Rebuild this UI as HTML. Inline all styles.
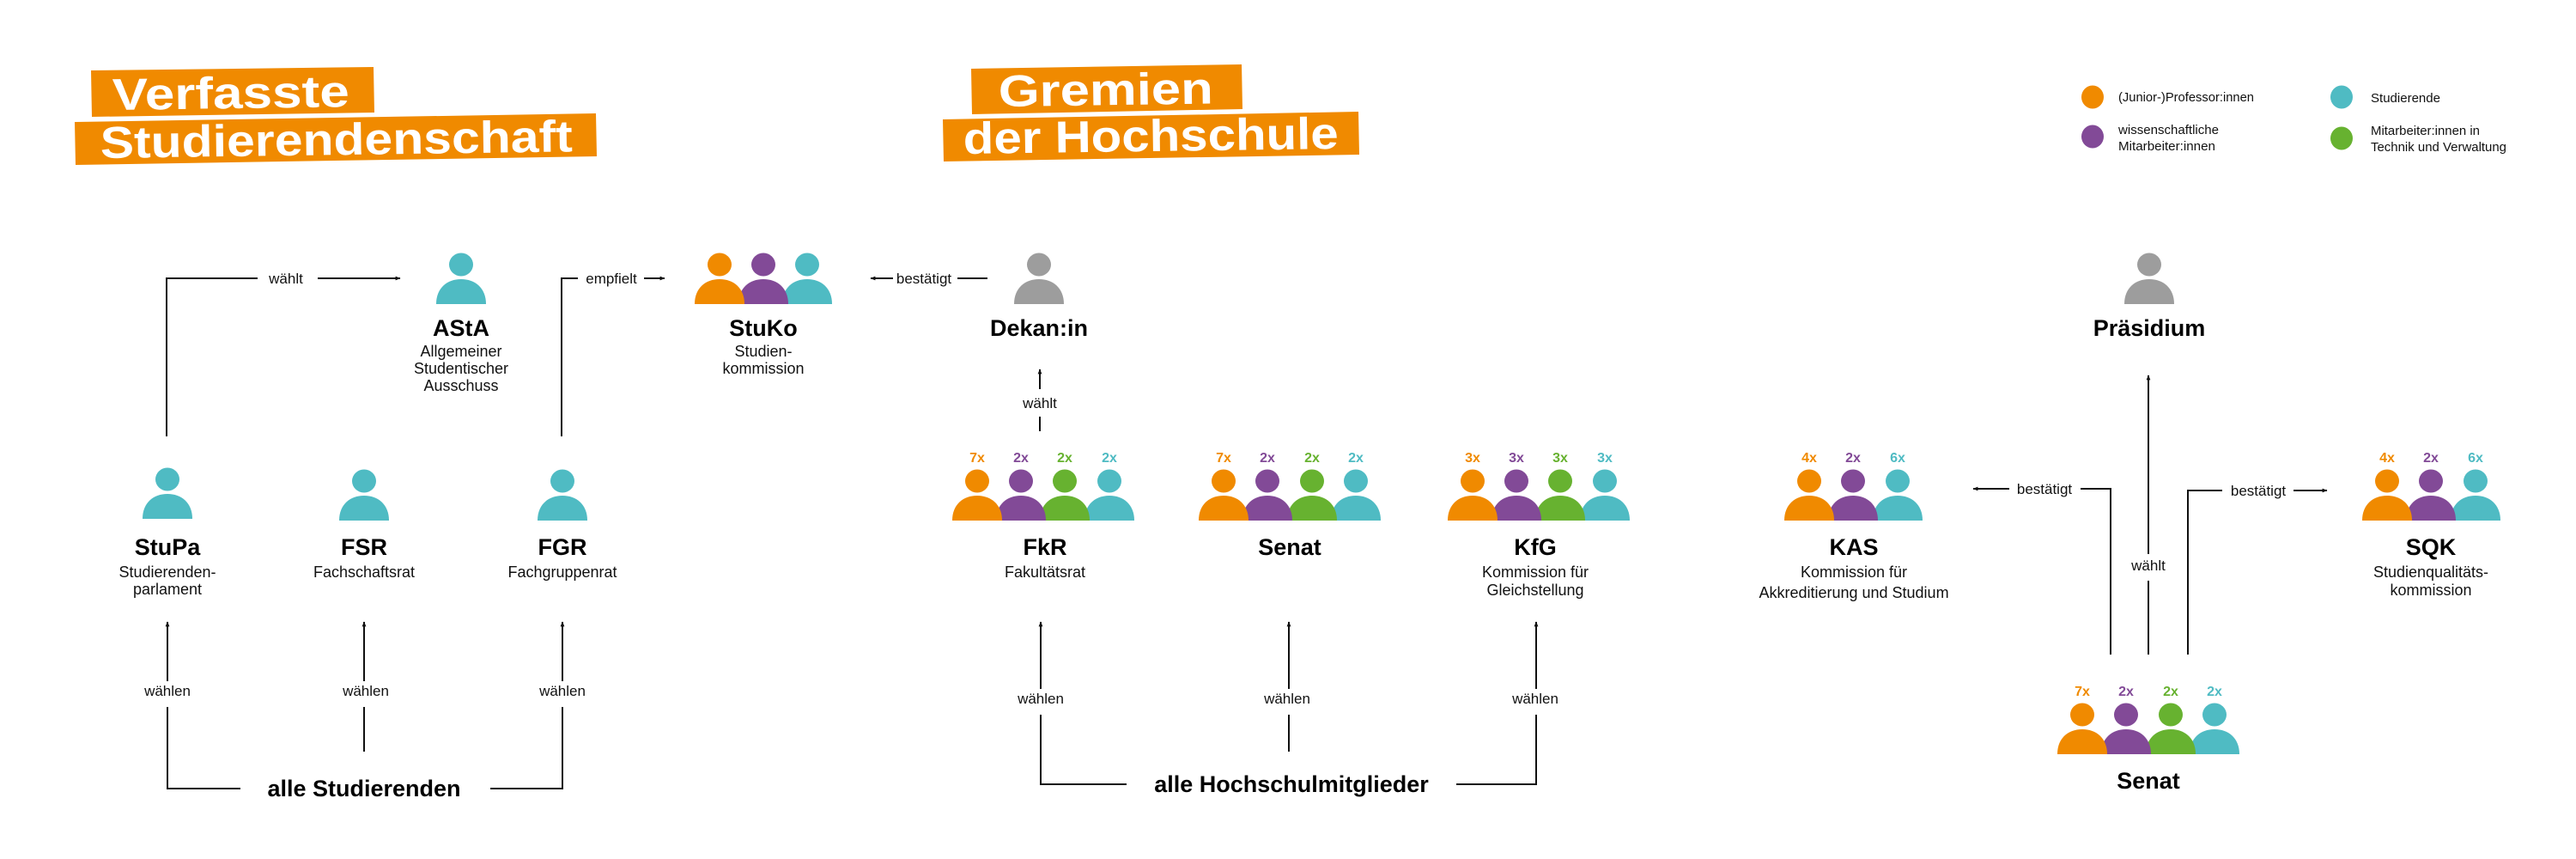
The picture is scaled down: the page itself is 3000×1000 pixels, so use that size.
<!DOCTYPE html>
<html><head><meta charset="utf-8"><style>
html,body{margin:0;padding:0;background:#fff;}
svg{display:block;}
text{font-family:"Liberation Sans",sans-serif;}
.t{font-weight:bold;font-size:27px;text-anchor:middle;fill:#000;}
.s{font-size:18px;text-anchor:middle;fill:#111;}
.l{font-size:17px;text-anchor:middle;fill:#111;}
.lg{font-size:15px;fill:#111;}
.n{font-weight:bold;font-size:16px;text-anchor:middle;}
.h{font-weight:bold;fill:#fff;}
.ln{stroke:#111;stroke-width:2;fill:none;}
</style></head><body>
<svg width="3000" height="1000" viewBox="0 0 3000 1000" xmlns="http://www.w3.org/2000/svg">
<defs>
<marker id="ar" viewBox="0 0 10 10" refX="9" refY="5" markerWidth="6" markerHeight="6" orient="auto-start-reverse" markerUnits="userSpaceOnUse">
<path d="M0,1 L10,5 L0,9 Z" fill="#111"/></marker>
<g id="po"><ellipse cx="0" cy="0" rx="14" ry="13.5" fill="#F08A00"/><path d="M-29,46 C-29,27 -16,17 0,17 C16,17 29,27 29,46 Z" fill="#F08A00"/></g>
<g id="pp"><ellipse cx="0" cy="0" rx="14" ry="13.5" fill="#824A97"/><path d="M-29,46 C-29,27 -16,17 0,17 C16,17 29,27 29,46 Z" fill="#824A97"/></g>
<g id="pg"><ellipse cx="0" cy="0" rx="14" ry="13.5" fill="#67B230"/><path d="M-29,46 C-29,27 -16,17 0,17 C16,17 29,27 29,46 Z" fill="#67B230"/></g>
<g id="pt"><ellipse cx="0" cy="0" rx="14" ry="13.5" fill="#4FBBC3"/><path d="M-29,46 C-29,27 -16,17 0,17 C16,17 29,27 29,46 Z" fill="#4FBBC3"/></g>
<g id="px"><ellipse cx="0" cy="0" rx="14" ry="13.5" fill="#9D9D9D"/><path d="M-29,46 C-29,27 -16,17 0,17 C16,17 29,27 29,46 Z" fill="#9D9D9D"/></g>
</defs>

<!-- Headline boxes -->
<polygon points="106,82 435,78 436,131 107,136" fill="#F08A00"/>
<polygon points="87,142 694,132 695,182 88,192" fill="#F08A00"/>
<text class="h" x="131" y="128" font-size="52" textLength="276" lengthAdjust="spacingAndGlyphs" transform="rotate(-0.8 131 128)">Verfasste</text>
<text class="h" x="117" y="184" font-size="52" textLength="550" lengthAdjust="spacingAndGlyphs" transform="rotate(-0.8 117 184)">Studierendenschaft</text>

<polygon points="1131,80 1446,75 1447,127 1132,133" fill="#F08A00"/>
<polygon points="1098,139 1582,130 1583,180 1099,188" fill="#F08A00"/>
<text class="h" x="1163" y="124" font-size="52" textLength="250" lengthAdjust="spacingAndGlyphs" transform="rotate(-0.8 1163 124)">Gremien</text>
<text class="h" x="1122" y="179" font-size="52" textLength="437" lengthAdjust="spacingAndGlyphs" transform="rotate(-0.8 1122 179)">der Hochschule</text>

<!-- Legend -->
<ellipse cx="2437" cy="113" rx="13" ry="13.5" fill="#F08A00"/>
<text class="lg" x="2467" y="118" textLength="158" lengthAdjust="spacingAndGlyphs">(Junior-)Professor:innen</text>
<ellipse cx="2727" cy="113" rx="13" ry="13.5" fill="#4FBBC3"/>
<text class="lg" x="2761" y="119" textLength="81" lengthAdjust="spacingAndGlyphs">Studierende</text>
<ellipse cx="2437" cy="159" rx="13" ry="13.5" fill="#824A97"/>
<text class="lg" x="2467" y="156" textLength="117" lengthAdjust="spacingAndGlyphs">wissenschaftliche</text>
<text class="lg" x="2467" y="175" textLength="113" lengthAdjust="spacingAndGlyphs">Mitarbeiter:innen</text>
<ellipse cx="2727" cy="161" rx="13" ry="13.5" fill="#67B230"/>
<text class="lg" x="2761" y="157" textLength="127" lengthAdjust="spacingAndGlyphs">Mitarbeiter:innen in</text>
<text class="lg" x="2761" y="176" textLength="158" lengthAdjust="spacingAndGlyphs">Technik und Verwaltung</text>

<!-- Top row persons -->
<use href="#pt" x="537" y="308"/>
<use href="#pt" x="940" y="308"/>
<use href="#pp" x="889" y="308"/>
<use href="#po" x="838" y="308"/>
<use href="#px" x="1210" y="308"/>
<use href="#px" x="2503" y="308"/>

<text class="t" x="537" y="391">AStA</text>
<text class="s" x="537" y="415">Allgemeiner</text>
<text class="s" x="537" y="435">Studentischer</text>
<text class="s" x="537" y="455">Ausschuss</text>
<text class="t" x="889" y="391">StuKo</text>
<text class="s" x="889" y="415">Studien-</text>
<text class="s" x="889" y="435">kommission</text>
<text class="t" x="1210" y="391">Dekan:in</text>
<text class="t" x="2503" y="391">Präsidium</text>

<!-- wählt / empfielt / bestätigt top -->
<polyline class="ln" points="194,508 194,324 300,324"/>
<text class="l" x="333" y="330">wählt</text>
<line class="ln" x1="370" y1="324" x2="466" y2="324" marker-end="url(#ar)"/>
<polyline class="ln" points="654,508 654,324 673,324"/>
<text class="l" x="712" y="330">empfielt</text>
<line class="ln" x1="750" y1="324" x2="774" y2="324" marker-end="url(#ar)"/>
<line class="ln" x1="1040" y1="324" x2="1014" y2="324" marker-end="url(#ar)"/>
<text class="l" x="1076" y="330">bestätigt</text>
<line class="ln" x1="1115" y1="324" x2="1150" y2="324"/>
<line class="ln" x1="1211" y1="453" x2="1211" y2="430" marker-end="url(#ar)"/>
<text class="l" x="1211" y="475">wählt</text>
<line class="ln" x1="1211" y1="485" x2="1211" y2="502"/>

<!-- Student row -->
<use href="#pt" x="195" y="558"/>
<use href="#pt" x="424" y="560"/>
<use href="#pt" x="655" y="560"/>
<text class="t" x="195" y="646">StuPa</text>
<text class="s" x="195" y="672">Studierenden-</text>
<text class="s" x="195" y="692">parlament</text>
<text class="t" x="424" y="646">FSR</text>
<text class="s" x="424" y="672">Fachschaftsrat</text>
<text class="t" x="655" y="646">FGR</text>
<text class="s" x="655" y="672">Fachgruppenrat</text>

<line class="ln" x1="195" y1="793" x2="195" y2="724" marker-end="url(#ar)"/>
<line class="ln" x1="424" y1="793" x2="424" y2="724" marker-end="url(#ar)"/>
<line class="ln" x1="655" y1="793" x2="655" y2="724" marker-end="url(#ar)"/>
<text class="l" x="195" y="810">wählen</text>
<text class="l" x="426" y="810">wählen</text>
<text class="l" x="655" y="810">wählen</text>
<polyline class="ln" points="195,823 195,918 280,918"/>
<line class="ln" x1="424" y1="823" x2="424" y2="875"/>
<polyline class="ln" points="571,918 655,918 655,823"/>
<text class="t" x="424" y="927">alle Studierenden</text>

<!-- Gremien row -->
<g>
<text class="n" x="1138" y="538" fill="#F08A00">7x</text><text class="n" x="1189" y="538" fill="#824A97">2x</text><text class="n" x="1240" y="538" fill="#67B230">2x</text><text class="n" x="1292" y="538" fill="#4FBBC3">2x</text>
<use href="#pt" x="1292" y="560"/><use href="#pg" x="1240" y="560"/><use href="#pp" x="1189" y="560"/><use href="#po" x="1138" y="560"/>
</g>
<g>
<text class="n" x="1425" y="538" fill="#F08A00">7x</text><text class="n" x="1476" y="538" fill="#824A97">2x</text><text class="n" x="1528" y="538" fill="#67B230">2x</text><text class="n" x="1579" y="538" fill="#4FBBC3">2x</text>
<use href="#pt" x="1579" y="560"/><use href="#pg" x="1528" y="560"/><use href="#pp" x="1476" y="560"/><use href="#po" x="1425" y="560"/>
</g>
<g>
<text class="n" x="1715" y="538" fill="#F08A00">3x</text><text class="n" x="1766" y="538" fill="#824A97">3x</text><text class="n" x="1817" y="538" fill="#67B230">3x</text><text class="n" x="1869" y="538" fill="#4FBBC3">3x</text>
<use href="#pt" x="1869" y="560"/><use href="#pg" x="1817" y="560"/><use href="#pp" x="1766" y="560"/><use href="#po" x="1715" y="560"/>
</g>
<g>
<text class="n" x="2107" y="538" fill="#F08A00">4x</text><text class="n" x="2158" y="538" fill="#824A97">2x</text><text class="n" x="2210" y="538" fill="#4FBBC3">6x</text>
<use href="#pt" x="2210" y="560"/><use href="#pp" x="2158" y="560"/><use href="#po" x="2107" y="560"/>
</g>
<g>
<text class="n" x="2780" y="538" fill="#F08A00">4x</text><text class="n" x="2831" y="538" fill="#824A97">2x</text><text class="n" x="2883" y="538" fill="#4FBBC3">6x</text>
<use href="#pt" x="2883" y="560"/><use href="#pp" x="2831" y="560"/><use href="#po" x="2780" y="560"/>
</g>
<g>
<text class="n" x="2425" y="810" fill="#F08A00">7x</text><text class="n" x="2476" y="810" fill="#824A97">2x</text><text class="n" x="2528" y="810" fill="#67B230">2x</text><text class="n" x="2579" y="810" fill="#4FBBC3">2x</text>
<use href="#pt" x="2579" y="832"/><use href="#pg" x="2528" y="832"/><use href="#pp" x="2476" y="832"/><use href="#po" x="2425" y="832"/>
</g>

<text class="t" x="1217" y="646">FkR</text>
<text class="s" x="1217" y="672">Fakultätsrat</text>
<text class="t" x="1502" y="646">Senat</text>
<text class="t" x="1788" y="646">KfG</text>
<text class="s" x="1788" y="672">Kommission für</text>
<text class="s" x="1788" y="693">Gleichstellung</text>
<text class="t" x="2159" y="646">KAS</text>
<text class="s" x="2159" y="672">Kommission für</text>
<text class="s" x="2159" y="696">Akkreditierung und Studium</text>
<text class="t" x="2831" y="646">SQK</text>
<text class="s" x="2831" y="672">Studienqualitäts-</text>
<text class="s" x="2831" y="693">kommission</text>
<text class="t" x="2502" y="918">Senat</text>

<line class="ln" x1="1212" y1="802" x2="1212" y2="724" marker-end="url(#ar)"/>
<line class="ln" x1="1501" y1="802" x2="1501" y2="724" marker-end="url(#ar)"/>
<line class="ln" x1="1789" y1="802" x2="1789" y2="724" marker-end="url(#ar)"/>
<text class="l" x="1212" y="819">wählen</text>
<text class="l" x="1499" y="819">wählen</text>
<text class="l" x="1788" y="819">wählen</text>
<polyline class="ln" points="1212,832 1212,913 1312,913"/>
<line class="ln" x1="1501" y1="832" x2="1501" y2="875"/>
<polyline class="ln" points="1696,913 1789,913 1789,832"/>
<text class="t" x="1504" y="922">alle Hochschulmitglieder</text>

<!-- Senat right connectors -->
<line class="ln" x1="2340" y1="569" x2="2298" y2="569" marker-end="url(#ar)"/>
<text class="l" x="2381" y="575">bestätigt</text>
<polyline class="ln" points="2423,569 2458,569 2458,762"/>
<line class="ln" x1="2502" y1="645" x2="2502" y2="437" marker-end="url(#ar)"/>
<text class="l" x="2502" y="664">wählt</text>
<line class="ln" x1="2502" y1="676" x2="2502" y2="762"/>
<polyline class="ln" points="2548,762 2548,571 2588,571"/>
<text class="l" x="2630" y="577">bestätigt</text>
<line class="ln" x1="2671" y1="571" x2="2710" y2="571" marker-end="url(#ar)"/>
</svg>
</body></html>
